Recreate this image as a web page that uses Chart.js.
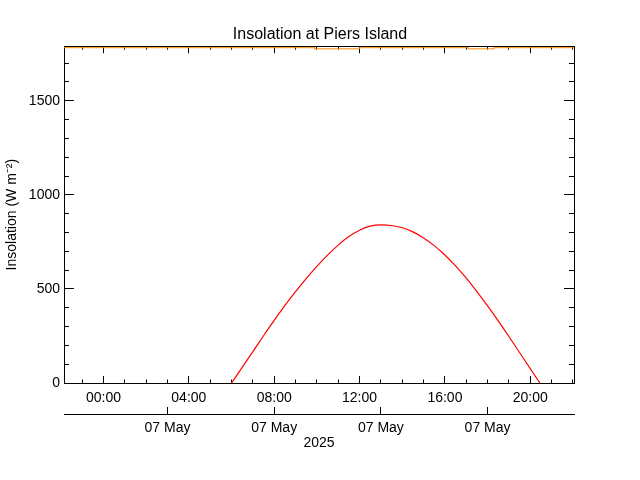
<!DOCTYPE html>
<html>
<head>
<meta charset="utf-8">
<script src="https://cdn.jsdelivr.net/npm/chart.js@4/dist/chart.umd.min.js"></script>
<style>
  html, body { margin: 0; padding: 0; background: #fff; }
  #wrap { width: 640px; height: 480px; }
</style>
</head>
<body>
<div id="wrap"><canvas id="c"></canvas></div>
<script>
'use strict';

// ── data (hours of 07 May 2025, W m-2) ───────────────────────────────────────

const sunHours = [6.0, 6.5, 7.0, 7.5, 8.0, 8.5, 9.0, 9.5, 10.0, 10.5, 11.0, 11.5,
  12.0, 12.5, 13.0, 13.5, 14.0, 14.5, 15.0, 15.5, 16.0, 16.5, 17.0, 17.5,
  18.0, 18.5, 19.0, 19.5, 20.0, 20.45];
const insolation = [0, 83, 167, 251, 333, 411, 485, 555, 620, 680, 733, 778,
  812, 834, 840, 837, 825, 803, 771, 730, 680, 622, 557, 486,
  410, 330, 247, 162, 76, 0];

const topHours = [-1.85, 9.9, 9.9, 12.0, 12.0, 17.1, 17.1, 18.3, 18.3, 22.05];
const topValues = [1782, 1782, 1776, 1776, 1782, 1782, 1776, 1776, 1782, 1782];

const X_MIN = -1.85, X_MAX = 22.05;
const Y_MIN = 0, Y_MAX = 1790;

const hourTicks = [0, 4, 8, 12, 16, 20];
const hourLabels = ['00:00', '04:00', '08:00', '12:00', '16:00', '20:00'];
const minorHourTicks = [-1, 0, 1, 2, 3, 4, 5, 6, 7, 8, 9, 10, 11, 12, 13, 14, 15,
  16, 17, 18, 19, 20, 21, 22];
const dateTicks = [3, 8, 13, 18];
const dateLabels = ['07 May', '07 May', '07 May', '07 May'];
const yTicks = [0, 500, 1000, 1500];
const yMinorTicks = [100, 200, 300, 400, 600, 700, 800, 900, 1100, 1200, 1300,
  1400, 1600, 1700];

// ── helpers ──────────────────────────────────────────────────────────────────

const FONT = 'Liberation Sans';
const INK = '#000';

function setTicks(list) {
  return s => { s.ticks = list.map(v => ({ value: v })); };
}

// axis that only draws tick marks
function tickAxis(pos, min, max, list, len, border, weight, size) {
  const horiz = pos === 'top' || pos === 'bottom';
  return {
    type: 'linear', position: pos, min, max, weight,
    afterBuildTicks: setTicks(list),
    afterFit: s => { if (horiz) s.height = size; else s.width = size; },
    ticks: { display: false },
    grid: { drawOnChartArea: false, tickLength: -len, color: INK, tickColor: INK },
    border: { display: border, color: INK, width: 1 },
  };
}

// ── chart ────────────────────────────────────────────────────────────────────

const ctx = document.getElementById('c').getContext('2d');

new Chart(ctx, {
  type: 'line',
  data: {
    datasets: [
      {
        label: 'top',
        data: topHours.map((h, i) => ({ x: h, y: topValues[i] })),
        borderColor: '#ff8800', borderWidth: 1, pointRadius: 0,
        xAxisID: 'x', yAxisID: 'y',
      },
      {
        label: 'Insolation',
        data: sunHours.map((h, i) => ({ x: h, y: insolation[i] })),
        borderColor: '#ff0000', borderWidth: 1.2, pointRadius: 0,
        cubicInterpolationMode: 'monotone',
        xAxisID: 'x', yAxisID: 'y',
      },
    ],
  },
  options: {
    responsive: true, maintainAspectRatio: false, animation: false,
    devicePixelRatio: 1,
    layout: { padding: 0 },
    plugins: {
      legend: { display: false },
      tooltip: { enabled: false },
      title: {
        display: true, text: 'Insolation at Piers Island', color: INK,
        font: { family: FONT, size: 16, weight: 'normal' },
        padding: { top: 25, bottom: 2 },
      },
    },
    scales: {
      x: {
        type: 'linear', position: 'bottom', weight: 1, min: X_MIN, max: X_MAX,
        afterBuildTicks: setTicks(hourTicks),
        afterFit: s => { s.height = 31; },
        ticks: {
          callback: (v, i) => hourLabels[i], color: INK, padding: 14,
          autoSkip: false, maxRotation: 0, font: { family: FONT, size: 14 },
        },
        grid: { drawOnChartArea: false, tickLength: -7, color: INK },
        border: { color: INK, width: 1 },
      },
      xMinor: tickAxis('bottom', X_MIN, X_MAX, minorHourTicks, 3.5, false, 0, 0),
      x2: {
        type: 'linear', position: 'bottom', weight: 2, min: X_MIN, max: X_MAX,
        afterBuildTicks: setTicks(dateTicks),
        afterFit: s => { s.height = 66; },
        ticks: {
          callback: (v, i) => dateLabels[i], color: INK, padding: 13,
          autoSkip: false, maxRotation: 0, font: { family: FONT, size: 14 },
        },
        grid: { drawOnChartArea: false, tickLength: -7, color: INK },
        border: { color: INK, width: 1 },
        title: {
          display: true, text: '2025', color: INK,
          font: { family: FONT, size: 14 }, padding: { top: 0, bottom: 28 },
        },
      },
      xTop: tickAxis('top', X_MIN, X_MAX, hourTicks, 7, true, 0, 0),
      xTopMinor: tickAxis('top', X_MIN, X_MAX, minorHourTicks, 3.5, false, 0, 0),
      y: {
        type: 'linear', position: 'left', weight: 1, min: Y_MIN, max: Y_MAX,
        afterBuildTicks: setTicks(yTicks),
        afterFit: s => { s.width = 64; },
        ticks: {
          callback: v => String(v), color: INK, padding: 14,
          font: { family: FONT, size: 14 },
        },
        grid: { drawOnChartArea: false, tickLength: -10, color: INK },
        border: { color: INK, width: 1 },
        title: {
          display: true, text: 'Insolation (W m\u207B\u00B2)', color: INK,
          font: { family: FONT, size: 14 }, padding: { top: 4, bottom: 0 },
        },
      },
      yMinor: tickAxis('left', Y_MIN, Y_MAX, yMinorTicks, 5, false, 0, 0),
      yRight: tickAxis('right', Y_MIN, Y_MAX, yTicks, 10, true, 1, 66),
      yRightMinor: tickAxis('right', Y_MIN, Y_MAX, yMinorTicks, 5, false, 0, 0),
    },
  },
});
</script>
</body>
</html>
